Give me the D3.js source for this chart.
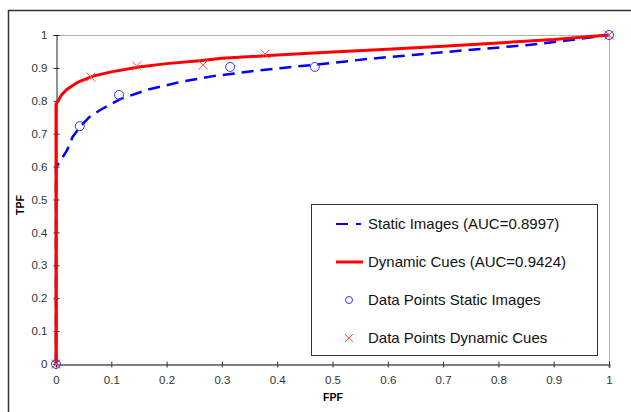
<!DOCTYPE html>
<html>
<head>
<meta charset="utf-8">
<script src="https://cdn.jsdelivr.net/npm/d3@7"></script>
<style>
body { margin: 0; background: #fff; }
svg { display: block; font-family: Arial, "Liberation Sans", sans-serif; }
</style>
</head>
<body>
<div id="cContainer"></div>
<script>
// fitted curves
var staticCurve = [[0,0],[0,0.45],[0,0.6],[0.007,0.614],[0.02,0.65],[0.03,0.69],[0.043,0.72],[0.06,0.75],[0.08,0.772],[0.116,0.805],[0.164,0.833],[0.224,0.857],[0.284,0.875],[0.35,0.889],[0.41,0.9],[0.5,0.915],[0.562,0.927],[0.65,0.94],[0.743,0.954],[0.85,0.969],[0.924,0.983],[1,1]];
var dynamicCurve = [[0,0],[0,0.3],[0,0.79],[0.004,0.8],[0.01,0.818],[0.02,0.835],[0.04,0.857],[0.067,0.875],[0.1,0.888],[0.15,0.903],[0.2,0.913],[0.26,0.922],[0.3,0.929],[0.4,0.939],[0.5,0.948],[0.6,0.957],[0.7,0.966],[0.8,0.976],[0.9,0.986],[1,1]];
var staticPoints = [[0,0],[0.043,0.723],[0.114,0.818],[0.315,0.903],[0.468,0.903],[1,1]];
var dynamicPoints = [[0,0],[0.063,0.872],[0.146,0.906],[0.266,0.909],[0.378,0.942],[1,1]];
var ticks = [0,0.1,0.2,0.3,0.4,0.5,0.6,0.7,0.8,0.9,1];
var legendLabels = ["Static Images (AUC=0.8997)","Dynamic Cues (AUC=0.9424)","Data Points Static Images","Data Points Dynamic Cues"];

var width = 631, height = 412;
var svg = d3.select("#cContainer").append("svg")
	.attr("width", width)
	.attr("height", height);

// outer frame
svg.append("path")
	.attr("d", "M8.5," + height + "V10.5H" + width)
	.attr("fill", "none")
	.attr("stroke", "#333")
	.attr("stroke-width", 1.5);

var x = d3.scaleLinear().domain([0,1]).range([56,609]);
var y = d3.scaleLinear().domain([0,1]).range([364,35]);

// plot border top/right
svg.append("path")
	.attr("d", "M" + x(0) + "," + (y(1)+0.5) + "H" + (x(1)+0.5) + "V" + y(0))
	.attr("fill", "none")
	.attr("stroke", "#b0b0b0")
	.attr("stroke-width", 1);

var yAxis = svg.append("g")
	.attr("transform", "translate(" + (x(0)+0.5) + ",0)")
	.call(d3.axisLeft(y).tickValues(ticks).tickSize(3).tickFormat(d3.format("")));
yAxis.select(".domain").attr("stroke", "#222");
yAxis.selectAll(".tick line").attr("x1", 3).attr("stroke", "#222");
yAxis.selectAll(".tick text").attr("x", -9).attr("fill", "#333")
	.style("font-size", "11.5px").style("font-family", "Arial, 'Liberation Sans', sans-serif");

var xAxis = svg.append("g")
	.attr("transform", "translate(0," + (y(0)+0.5) + ")")
	.call(d3.axisBottom(x).tickValues(ticks).tickSize(3).tickFormat(d3.format("")));
xAxis.select(".domain").attr("stroke", "#808080").attr("stroke-width", 2);
xAxis.selectAll(".tick line").attr("y1", -3).attr("stroke", "#333");
xAxis.selectAll(".tick text").attr("y", 11).attr("fill", "#333")
	.style("font-size", "11.5px").style("font-family", "Arial, 'Liberation Sans', sans-serif");

svg.append("text")
	.attr("x", 333).attr("y", 401)
	.attr("text-anchor", "middle")
	.style("font-size", "10.5px").style("font-weight", "bold")
	.text("FPF");
svg.append("text")
	.attr("transform", "translate(24,205) rotate(-90)")
	.attr("text-anchor", "middle")
	.style("font-size", "10.5px").style("font-weight", "bold")
	.text("TPF");

var line = d3.line()
	.x(function(d){ return x(d[0]); })
	.y(function(d){ return y(d[1]); });

svg.append("path")
	.datum(staticCurve)
	.attr("d", line)
	.attr("fill", "none")
	.attr("stroke", "#0000ff")
	.attr("stroke-width", 2.5)
	.attr("stroke-dasharray", "12,7");

svg.append("path")
	.datum(dynamicCurve)
	.attr("d", line)
	.attr("fill", "none")
	.attr("stroke", "#ff0000")
	.attr("stroke-width", 3);

svg.selectAll("circle.pt")
	.data(staticPoints)
	.enter()
	.append("circle")
	.attr("class", "pt")
	.attr("cx", function(d){ return x(d[0]); })
	.attr("cy", function(d){ return y(d[1]); })
	.attr("r", 4.5)
	.attr("fill", "none")
	.attr("stroke", "#3333ff")
	.attr("stroke-width", 1);

function cross(g, cx, cy, s) {
	g.append("path")
		.attr("d", "M" + (cx-s) + "," + (cy-s) + "L" + (cx+s) + "," + (cy+s) + "M" + (cx-s) + "," + (cy+s) + "L" + (cx+s) + "," + (cy-s))
		.attr("stroke", "#ff5050")
		.attr("stroke-width", 1)
		.attr("fill", "none");
}
dynamicPoints.forEach(function(d) {
	cross(svg, x(d[0]), y(d[1]), 4.5);
});

// legend
var lg = svg.append("g");
lg.append("rect")
	.attr("x", 311.5).attr("y", 204.5)
	.attr("width", 286).attr("height", 151)
	.attr("fill", "#fff")
	.attr("stroke", "#333")
	.attr("stroke-width", 1);
var rowY = [224, 262, 300, 338];
legendLabels.forEach(function(t, i) {
	lg.append("text")
		.attr("x", 368).attr("y", rowY[i] + 5)
		.style("font-size", "15px")
		.attr("fill", "#111")
		.text(t);
});
lg.append("path").attr("d", "M336," + rowY[0] + "H348M356," + rowY[0] + "H361")
	.attr("stroke", "#0000ff").attr("stroke-width", 2);
lg.append("path").attr("d", "M336," + rowY[1] + "H363")
	.attr("stroke", "#ff0000").attr("stroke-width", 3);
lg.append("circle").attr("cx", 349).attr("cy", rowY[2]).attr("r", 3.5)
	.attr("fill", "none").attr("stroke", "#3333ff");
cross(lg, 349, rowY[3], 4);
</script>
</body>
</html>
